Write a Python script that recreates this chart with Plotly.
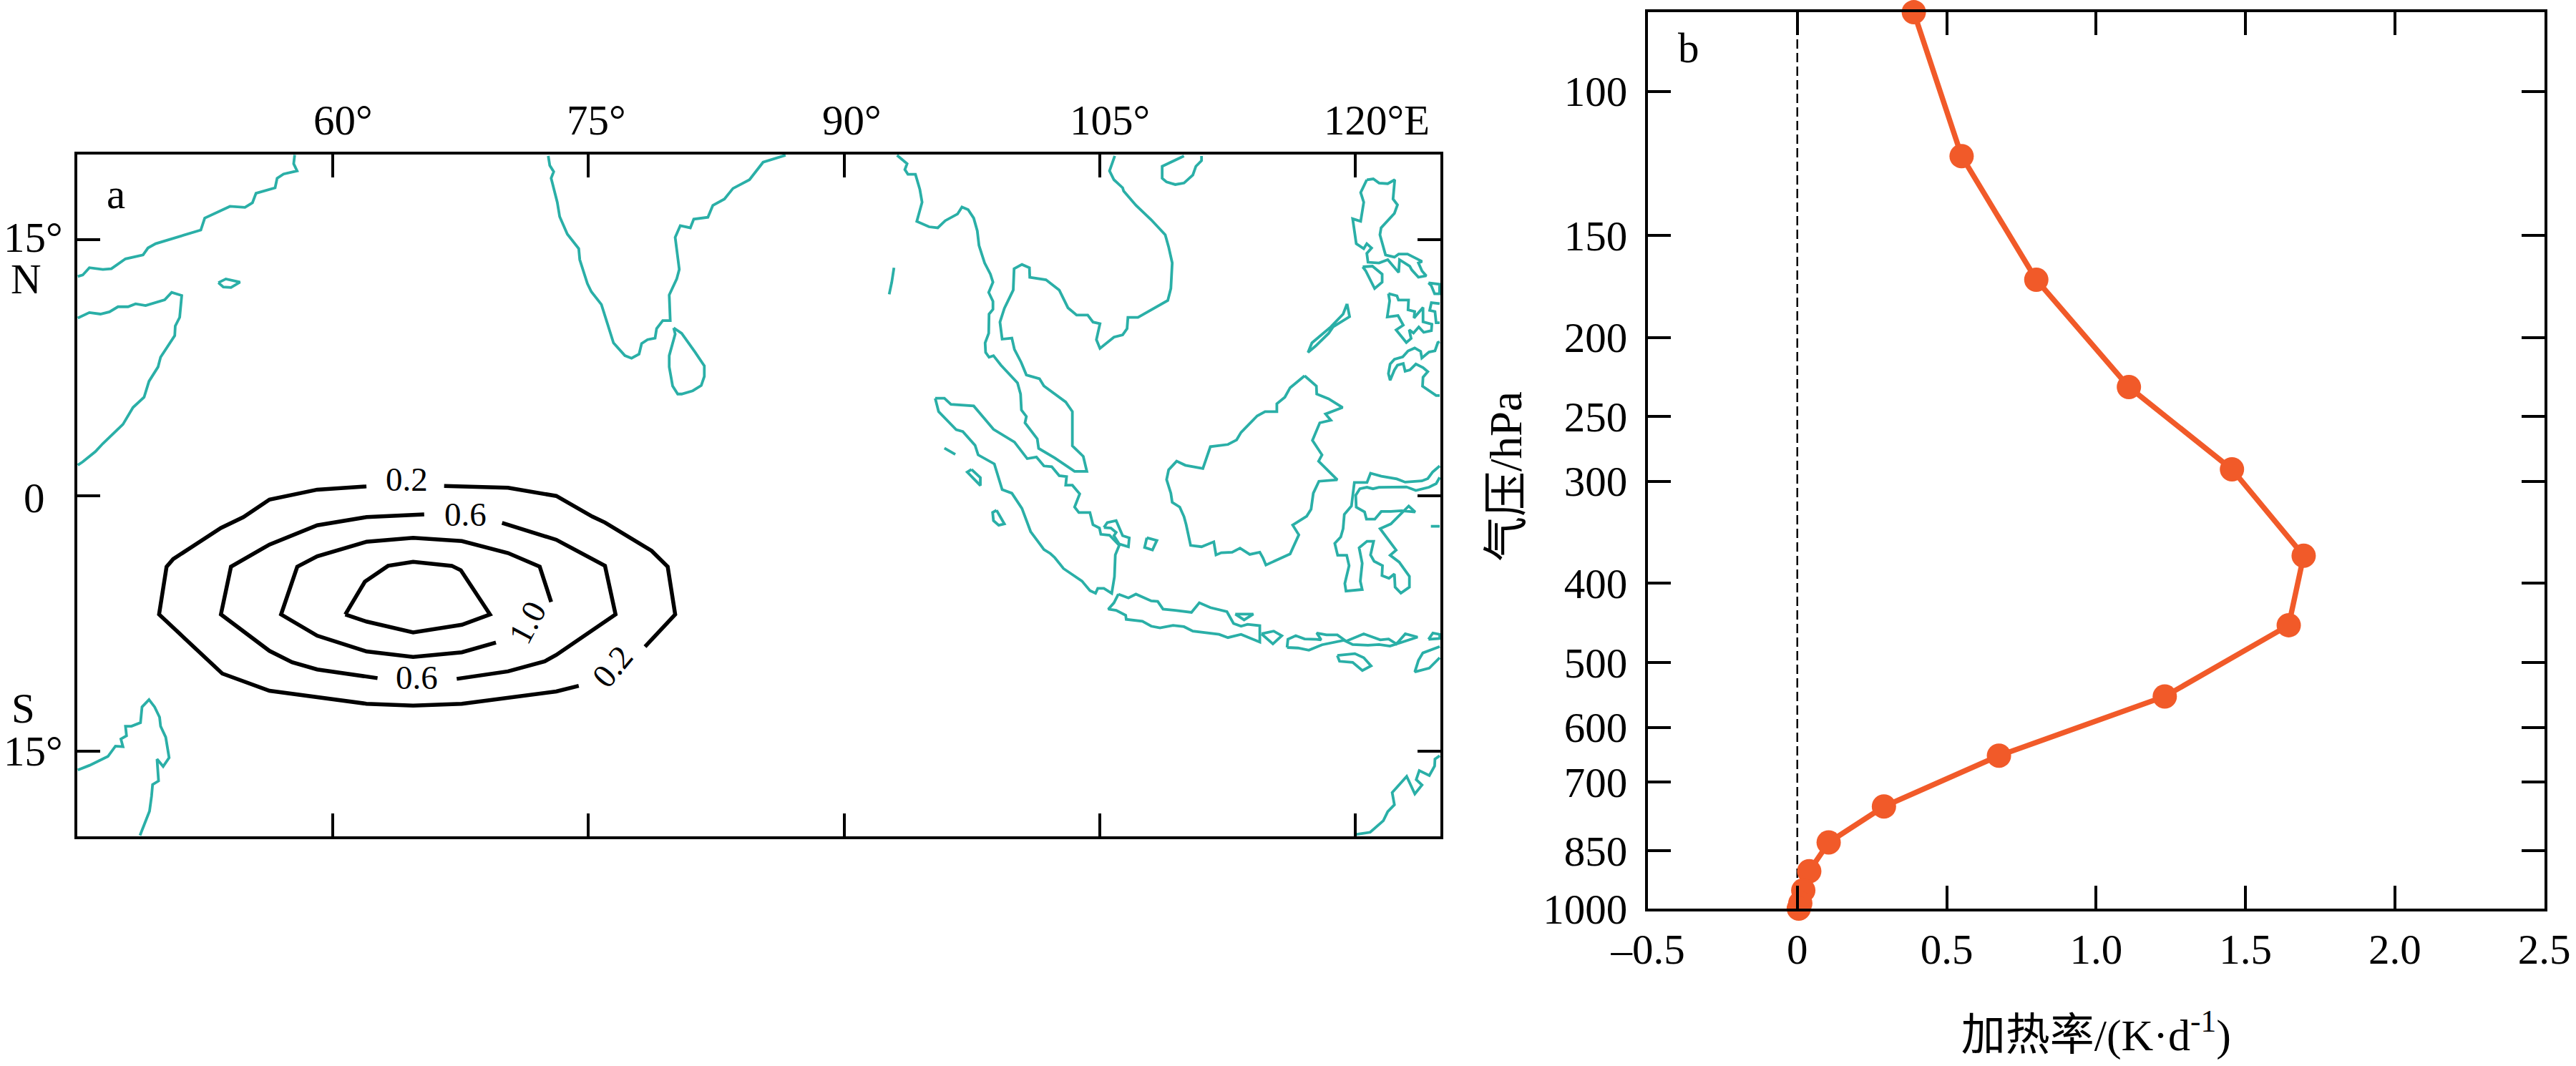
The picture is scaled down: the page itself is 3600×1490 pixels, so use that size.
import plotly.graph_objects as go

# ---------- panel a: tick labels ----------
lon_ticks = [60, 75, 90, 105, 120]
lon_labels = ["60°", "75°", "90°", "105°", "120°E"]
lat_ticks = [-15, 0, 15]

# ---------- panel a: coastlines (lon, lat) ----------
arabia = [(57.76,19.98),(57.7,19.46),(57.9,19.04),(57.11,18.86),(56.73,18.61),(56.61,18.05),(55.49,17.73),(55.28,17.17),(54.84,16.9),(53.96,16.96),(52.48,16.27),(52.25,15.57),(49.6,14.77),(49.15,14.52),(48.86,14.11),(47.83,13.88),(47.0,13.3),(46.5,13.26),(45.71,13.36),(45.32,12.93),(45.03,12.85)]
socotra = [(53.28,12.48),(53.72,12.7),(54.55,12.51),(54.02,12.2),(53.57,12.23),(53.28,12.48)]
horn = [(45.03,10.41),(45.71,10.73),(46.36,10.64),(46.89,10.77),(47.39,11.07),(47.98,11.07),(48.42,11.24),(49.01,11.14),(50.13,11.48),(50.54,11.91),(51.13,11.73),(51.01,10.45),(50.75,9.94),(50.72,9.38),(49.89,8.11),(49.74,7.54),(49.21,6.7),(48.92,5.76),(48.27,5.16),(47.68,4.17),(46.5,3.04),(46.06,2.57),(45.32,1.97),(45.03,1.78)]
india = [(72.64,19.92),(72.73,19.36),(72.96,18.99),(72.81,18.61),(73.17,17.2),(73.31,16.36),(73.76,15.33),(74.43,14.48),(74.49,13.83),(74.94,12.42),(75.17,11.95),(75.76,11.2),(76.47,8.95),(77.14,8.2),(77.53,8.05),(77.97,8.29),(78.12,8.91),(78.47,9.14),(78.91,9.23),(79.0,9.79),(79.36,10.26),(79.8,10.26),(79.74,11.76),(80.18,12.7),(80.33,13.26),(80.09,15.14),(80.39,15.83),(80.98,15.7),(81.18,16.21),(82.01,16.32),(82.3,17.02),(82.98,17.39),(83.48,18.01),(84.45,18.52),(85.25,19.55),(86.57,19.96)]
sri_lanka = [(80.0,9.83),(80.47,9.51),(81.27,8.39),(81.8,7.6),(81.8,6.98),(81.62,6.45),(81.12,6.14),(80.47,5.95),(80.24,5.95),(79.94,6.42),(79.74,7.54),(79.74,8.2),(80.09,9.47),(80.0,9.83)]
madagascar = [(45.03,-16.11),(45.71,-15.84),(46.8,-15.31),(47.24,-14.71),(47.68,-14.74),(47.56,-14.29),(47.89,-14.1),(47.83,-13.54),(48.18,-13.54),(48.71,-13.33),(48.8,-12.41),(49.21,-11.98),(49.54,-12.41),(49.83,-13.01),(49.89,-13.54),(50.19,-14.18),(50.39,-15.39),(50.04,-15.9),(49.68,-15.47),(49.77,-16.75),(49.42,-16.96),(49.36,-17.64),(49.24,-18.52),(48.95,-19.24),(48.68,-19.95)]
indochina = [(93.11,19.96),(93.7,19.46),(93.57,19.12),(93.75,18.84),(94.19,18.84),(94.45,17.95),(94.58,17.2),(94.27,16.08),(94.99,15.76),(95.5,15.7),(95.94,16.12),(96.66,16.51),(96.92,16.92),(97.28,16.77),(97.61,16.27),(97.82,15.52),(97.92,14.67),(98.25,13.64),(98.59,12.98),(98.74,12.51),(98.49,11.91),(98.74,11.39),(98.74,10.92),(98.51,10.64),(98.49,9.51),(98.28,8.95),(98.31,8.39),(98.51,8.11),(98.77,8.2),(99.21,7.64),(100.18,6.6),(100.36,5.95),(100.41,5.01),(100.7,4.63),(100.62,4.26),(101.34,3.32),(101.42,2.76),(102.37,2.2),(103.53,1.41),(104.25,1.41),(104.04,2.29),(103.4,2.91),(103.4,4.92),(103.01,5.48),(101.73,6.42),(101.47,6.85),(100.7,7.07),(100.39,7.82),(100.0,8.57),(99.85,9.23),(99.28,9.17),(99.15,10.17),(99.41,10.98),(99.93,12.05),(99.98,13.3),(100.44,13.55),(100.88,13.36),(100.9,12.8),(101.85,12.65),(102.63,12.05),(103.14,11.01),(103.65,10.58),(104.3,10.58),(104.61,10.17),(105.02,10.08),(104.81,9.14),(105.02,8.63),(105.84,9.29),(106.35,9.42),(106.61,9.79),(106.66,10.45),(107.25,10.45),(109.0,11.44),(109.18,12.14),(109.26,13.64),(109.05,14.58),(108.85,15.29),(108.03,16.17),(107.13,17.02),(106.41,17.86),(106.35,18.05),(105.84,18.52),(105.58,19.04),(105.89,19.92)]
hainan = [(109.95,19.92),(108.67,19.31),(108.67,18.61),(108.93,18.39),(109.44,18.24),(109.95,18.33),(110.47,18.8),(110.65,19.31),(110.98,19.64),(110.98,19.92)]
andaman = [(92.93,13.36),(92.8,12.51),(92.65,11.8)]
luzon = [(120.68,18.52),(121.06,18.57),(121.4,18.33),(121.91,18.29),(122.32,18.52),(122.22,17.39),(122.48,17.05),(122.3,16.55),(121.52,15.7),(121.45,15.29),(121.78,14.11),(122.3,13.98),(122.55,14.16),(123.07,14.16),(123.92,13.73),(123.71,13.64),(123.92,13.17),(124.17,12.89),(123.71,12.8),(123.32,13.23),(123.2,13.45),(122.6,13.83),(122.55,13.08),(121.91,13.83),(121.4,13.64),(120.75,13.68),(120.68,14.2),(120.96,14.52),(120.68,14.77),(120.5,14.48),(120.06,14.77),(119.85,16.23),(120.32,16.08),(120.5,17.2),(120.32,17.77),(120.68,18.52)]
mindoro = [(120.44,13.41),(121.01,13.45),(121.58,12.98),(121.58,12.51),(121.14,12.14),(120.88,12.7),(120.62,13.17),(120.44,13.41)]
palawan = [(119.52,11.24),(119.67,10.49),(118.7,9.89),(118.44,9.51),(117.67,8.76),(117.23,8.39),(117.46,8.95),(118.57,9.89),(119.29,10.64),(119.52,11.24)]
visayas = [(121.95,11.84),(122.45,11.71),(122.54,11.46),(123.13,11.46),(123.1,10.89),(123.49,10.79),(123.45,10.41),(123.98,11.03),(123.98,10.19),(124.5,10.05),(124.47,9.67),(124.02,9.57),(123.73,9.88),(123.42,9.53),(123.17,9.71),(123.28,9.21),(123.0,8.97),(122.4,9.71),(122.82,9.99),(122.51,10.55),(121.88,10.47),(122.02,11.42),(121.95,11.84)]
samar = [(124.3,12.47),(124.95,12.39),(124.95,11.83),(124.66,11.83),(124.47,12.3),(124.3,12.47)]
leyte = [(124.96,11.25),(124.47,11.31),(124.37,10.86),(124.68,10.79),(124.75,10.13),(124.96,10.13)]
mindanao = [(124.96,9.01),(124.85,8.97),(124.68,8.48),(124.33,8.41),(123.91,8.06),(123.84,8.45),(123.49,8.65),(123.1,8.48),(122.79,8.13),(122.3,7.99),(122.05,7.71),(121.95,7.15),(122.05,6.76),(122.3,7.36),(122.48,7.64),(122.82,7.74),(122.93,7.29),(123.21,7.36),(123.56,7.71),(123.98,7.5),(124.26,7.26),(123.98,6.94),(123.95,6.41),(124.47,6.03),(124.75,5.86),(124.96,5.86)]
borneo = [(117.03,7.02),(117.72,6.42),(117.74,5.95),(118.44,5.67),(119.26,5.16),(118.26,4.78),(118.57,4.41),(117.92,4.26),(117.49,3.23),(118.05,2.38),(117.85,2.01),(118.95,0.92),(117.87,0.83),(117.54,0.13),(117.41,-0.81),(117.15,-1.22),(116.33,-1.74),(116.69,-2.31),(116.18,-3.43),(114.76,-4.08),(114.58,-3.65),(114.4,-3.33),(113.81,-3.46),(113.24,-3.09),(112.78,-3.33),(112.14,-3.36),(111.83,-3.49),(111.7,-2.72),(110.98,-3.01),(110.34,-2.93),(110.08,-1.72),(109.95,-1.24),(109.7,-0.68),(109.26,-0.4),(109.18,0.13),(108.93,0.93),(109.05,1.5),(109.52,2.01),(110.03,1.77),(111.06,1.58),(111.5,2.86),(112.53,2.99),(113.04,3.26),(113.3,3.7),(114.25,4.67),(114.71,4.92),(115.4,4.92),(115.4,5.38),(115.87,5.76),(116.18,6.32),(117.03,7.02)]
sumatra = [(95.35,5.7),(95.89,5.7),(96.27,5.35),(97.61,5.25),(98.05,4.73),(98.77,3.88),(100.0,3.13),(100.75,2.16),(101.29,2.25),(101.73,1.73),(102.19,1.69),(102.63,1.16),(103.06,1.11),(103.01,0.6),(103.4,0.6),(103.83,0.09),(103.53,-0.68),(103.78,-1.0),(104.43,-1.0),(104.61,-1.72),(104.99,-1.91),(105.07,-2.28),(105.58,-2.33),(106.15,-2.93),(105.92,-3.49),(105.87,-4.77),(105.71,-5.74),(105.25,-5.45),(104.89,-5.45),(104.76,-5.74),(104.43,-5.58),(103.96,-5.02),(102.88,-4.29),(102.37,-3.65),(102.11,-3.41),(101.73,-3.17),(100.95,-2.12),(100.44,-0.76),(99.85,0.13),(99.28,0.34),(98.82,1.85),(97.87,2.38),(97.69,2.94),(96.97,3.75),(96.58,3.86),(95.55,4.92),(95.35,5.7)]
simeulue = [(95.89,2.78),(96.53,2.41)]
nias = [(97.48,1.53),(98.0,1.05),(98.0,0.58),(97.23,1.37),(97.48,1.53)]
siberut = [(98.95,-0.87),(99.41,-1.67),(99.08,-1.75),(98.77,-1.48),(98.72,-1.0),(98.95,-0.87)]
bangka = [(105.25,-1.88),(105.45,-1.59),(105.97,-1.48),(106.35,-2.36),(106.74,-2.49),(106.69,-3.01),(106.15,-2.85),(105.84,-2.36),(105.97,-2.17),(105.66,-1.91),(105.25,-1.88)]
belitung = [(107.77,-2.48),(108.36,-2.64),(108.1,-3.2),(107.64,-3.05),(107.77,-2.48)]
java = [(106.1,-5.79),(106.69,-6.01),(107.13,-5.79),(108.03,-6.19),(108.41,-6.22),(108.72,-6.67),(109.44,-6.74),(110.39,-6.86),(110.85,-6.3),(111.5,-6.58),(112.47,-6.82),(112.86,-7.51),(113.3,-7.67),(113.68,-7.56),(114.4,-7.64),(114.4,-8.6),(113.3,-8.15),(112.53,-8.34),(112.01,-8.15),(110.47,-7.96),(109.95,-7.7),(109.31,-7.62),(108.54,-7.77),(108.03,-7.67),(107.51,-7.38),(106.56,-7.27),(106.53,-7.03),(105.97,-6.74),(105.51,-6.67),(105.84,-6.3),(106.1,-5.79)]
madura = [(112.96,-6.96),(114.02,-6.96),(113.48,-7.3),(112.96,-6.96)]
bali = [(114.5,-8.12),(115.22,-7.96),(115.69,-8.23),(115.17,-8.71),(114.5,-8.12)]
flores = [(116.0,-8.92),(116.05,-8.44),(116.51,-8.23),(117.03,-8.42),(117.72,-8.44),(118.0,-8.47),(117.74,-8.07),(118.31,-8.18),(118.95,-8.18),(119.47,-8.55),(120.5,-8.12),(121.47,-8.47),(121.96,-8.42),(122.42,-8.71),(122.94,-8.12),(123.66,-8.31),(122.04,-8.84),(121.4,-8.75),(120.75,-8.79),(119.85,-8.75),(119.34,-8.5),(118.05,-8.76),(117.28,-9.08),(116.64,-8.95),(116.0,-8.92)]
sumba = [(118.95,-9.39),(119.98,-9.28),(120.5,-9.52),(120.93,-10.0),(120.42,-10.27),(119.85,-9.79),(119.08,-9.73),(118.95,-9.39)]
timor = [(124.96,-8.87),(123.97,-9.24),(123.71,-9.68),(123.5,-10.35),(124.35,-10.13),(124.96,-9.52)]
alor = [(124.3,-8.44),(124.56,-8.07),(124.96,-8.15),(124.96,-8.39),(124.3,-8.44)]
australia = [(120.03,-19.89),(120.88,-19.76),(121.65,-19.08),(121.91,-18.55),(122.3,-18.15),(122.17,-17.43),(123.02,-16.48),(123.5,-17.51),(123.92,-16.99),(123.58,-16.67),(123.76,-16.14),(124.35,-16.43),(124.66,-15.87),(124.68,-15.47),(124.96,-15.27)]
sulawesi = [(124.96,1.73),(124.54,1.37),(124.26,0.99),(123.91,0.85),(122.93,0.78),(122.44,0.97),(121.53,1.13),(120.9,1.3),(120.69,0.76),(119.95,0.76),(119.78,-0.62),(119.36,-1.11),(119.29,-1.95),(119.15,-2.44),(118.8,-2.81),(118.97,-3.51),(119.5,-3.51),(119.64,-4.12),(119.39,-5.17),(119.46,-5.61),(120.41,-5.52),(120.3,-5.03),(120.41,-3.98),(120.23,-3.07),(120.69,-2.69),(121.08,-2.69),(120.9,-3.49),(121.11,-3.86),(121.6,-4.12),(121.57,-4.7),(121.98,-4.86),(122.3,-4.61),(122.34,-5.38),(122.68,-5.73),(123.18,-5.38),(123.18,-4.75),(122.58,-3.91),(122.05,-3.51),(122.4,-3.21),(121.46,-1.95),(122.09,-1.67),(123.14,-0.62),(123.52,-0.97),(122.72,-0.9),(122.09,-0.94),(121.53,-0.94),(121.15,-1.39),(120.66,-1.39),(120.55,-0.97),(120.06,-0.69),(120.03,0.01),(120.27,0.39),(120.69,0.48),(121.04,0.39),(121.39,0.48),(123.0,0.5),(123.56,0.29),(124.33,0.48),(124.75,0.69),(124.96,1.06)]
halmahera_stub = [(124.44,-1.81),(124.96,-1.81)]

coast_pieces = [arabia, socotra, horn, india, sri_lanka, madagascar, indochina, hainan, andaman,
                luzon, mindoro, palawan, visayas, samar, leyte, mindanao, borneo, sumatra, simeulue,
                nias, siberut, bangka, belitung, java, madura, bali, flores, sumba, timor, alor,
                australia, sulawesi, halmahera_stub]

# ---------- panel a: contours (lon, lat; broken where a label sits) ----------
contour_02 = [(66.53,0.56),(70.28,0.45),(73.11,-0.03),(75.23,-1.24),(75.97,-1.59),(78.71,-3.25),(79.65,-4.18),(80.09,-6.98),(78.32,-8.87)]
contour_02b = [(74.43,-11.17),(73.11,-11.5),(67.57,-12.22),(64.71,-12.33),(61.97,-12.22),(56.28,-11.46),(53.51,-10.45),(49.8,-6.98),(50.24,-4.18),(50.63,-3.73),(53.43,-1.91),(54.75,-1.27),(56.28,-0.24),(59.08,0.34),(61.97,0.53)]
contour_06 = [(65.36,-1.11),(61.97,-1.27),(59.08,-1.75),(56.28,-2.88),(54.02,-4.18),(53.43,-6.98),(56.28,-9.12),(57.61,-9.79),(59.08,-10.21),(62.62,-10.72)]
contour_06b = [(67.27,-10.76),(70.28,-10.32),(72.43,-9.73),(73.11,-9.36),(76.59,-6.98),(75.97,-4.13),(73.11,-2.6),(69.93,-1.61)]
contour_10 = [(72.81,-6.25),(72.14,-4.18),(70.28,-3.38),(67.57,-2.68),(64.71,-2.49),(61.97,-2.72),(59.08,-3.57),(57.91,-4.18),(56.96,-6.98),(59.08,-8.23),(61.97,-9.15),(64.71,-9.47),(67.57,-9.2),(69.57,-8.63)]
contour_14 = [(60.73,-6.98),(61.88,-5.06),(63.24,-4.13),(64.71,-3.89),(66.98,-4.13),(67.51,-4.39),(69.22,-6.98),(67.57,-7.59),(64.71,-8.04),(61.97,-7.4),(60.73,-6.98)]
contour_pieces = [contour_02, contour_02b, contour_06, contour_06b, contour_10, contour_14]

contour_labels = ["0.2", "0.6", "1.0", "0.6", "0.2"]
contour_label_lon = [64.33, 67.78, 71.4, 64.92, 76.41]
contour_label_lat = [0.96, -1.13, -7.43, -10.69, -10.0]
contour_label_rot = [0, 0, -62, 0, -50]

# ---------- panel b: profile ----------
heating_rate = [0.39, 0.55, 0.80, 1.11, 1.455, 1.695, 1.645, 1.23, 0.675, 0.29, 0.105, 0.04, 0.02, 0.01, 0.005]
pressure = [80, 120, 170, 230, 290, 370, 450, 550, 650, 750, 830, 900, 950, 985, 1000]
heat_ticks = [-0.5, 0, 0.5, 1.0, 1.5, 2.0, 2.5]
heat_labels = ["–0.5", "0", "0.5", "1.0", "1.5", "2.0", "2.5"]
pressure_ticks = [100, 150, 200, 250, 300, 400, 500, 600, 700, 850, 1000]
pressure_labels = [str(p) for p in pressure_ticks]
zero_x = [0, 0]
zero_y = [80, 1000]

FONT = "Liberation Serif, 'Noto Sans CJK SC', serif"
TEAL = "#2AAFA7"
ORANGE = "#F15A29"
W, H = 3600, 1490
TICK = 59

fig = go.Figure()


def add_pieces(pieces, color, width):
    for piece in pieces:
        fig.add_trace(go.Scatter(x=[p[0] for p in piece], y=[p[1] for p in piece], mode="lines",
                                 line=dict(color=color, width=width, shape="linear"),
                                 hoverinfo="skip", showlegend=False, xaxis="x", yaxis="y"))


add_pieces(coast_pieces, TEAL, 3.8)
add_pieces(contour_pieces, "black", 5.5)

fig.add_trace(go.Scatter(x=zero_x, y=zero_y, mode="lines", line=dict(color="black", width=2.5, dash="13px,6px"),
                         hoverinfo="skip", showlegend=False, xaxis="x2", yaxis="y2"))
fig.add_trace(go.Scatter(x=heating_rate, y=pressure, mode="lines+markers", line=dict(color=ORANGE, width=7.5),
                         marker=dict(color=ORANGE, size=34), cliponaxis=False,
                         showlegend=False, xaxis="x2", yaxis="y2"))

annotations = []


def note(text, x, y, xref="x", yref="y", size=TICK, xshift=0, yshift=0, angle=0):
    annotations.append(dict(text=text, x=x, y=y, xref=xref, yref=yref, showarrow=False,
                            font=dict(family=FONT, size=size, color="black"),
                            xanchor="center", yanchor="middle", xshift=xshift, yshift=yshift, textangle=angle))


lon_shift = [14, 11, 11, 14, 30]
for lab, lon, sh in zip(lon_labels, lon_ticks, lon_shift):
    note(lab, lon, 20, xshift=sh, yshift=48)
note("15°", 45, 15, xshift=-62, yshift=3)
note("N", 45, 15, xshift=-72, yshift=-55)
note("0", 45, 0, xshift=-60, yshift=-3)
note("S", 45, -15, xshift=-76, yshift=60)
note("15°", 45, -15, xshift=-62, yshift=0)
note("a", 47.27, 17.7)
note("b", -0.363, 1.947, xref="x2", yref="y2")
for lab, lo, la, rot in zip(contour_labels, contour_label_lon, contour_label_lat, contour_label_rot):
    note(lab, lo, la, size=47, angle=rot)
note("气压/hPa", 2105 / W, 1 - 666 / H, xref="paper", yref="paper", size=63, angle=-90)

frame = dict(showline=True, linecolor="black", linewidth=4, mirror="ticks", ticks="inside",
             ticklen=32, tickwidth=4, tickcolor="black", showgrid=False, zeroline=False, automargin=False,
             tickfont=dict(family=FONT, size=TICK, color="black"))

fig.update_layout(
    width=W, height=H, margin=dict(l=0, r=0, t=0, b=0),
    paper_bgcolor="white", plot_bgcolor="white", showlegend=False,
    font=dict(family=FONT, size=TICK, color="black"),
    xaxis=dict(domain=[108 / W, 2013 / W], range=[45, 125], tickmode="array", tickvals=lon_ticks,
               showticklabels=False, anchor="y", **frame),
    yaxis=dict(domain=[1 - 1169 / H, 1 - 216 / H], range=[-20, 20], tickmode="array", tickvals=lat_ticks,
               showticklabels=False, anchor="x", **frame),
    xaxis2=dict(domain=[2303 / W, 3555.5 / W], range=[-0.5, 2.5], tickmode="array", tickvals=heat_ticks,
                ticktext=heat_labels, anchor="y2", ticklabelstandoff=2,
                title=dict(text="加热率/(K·d<sup>-1</sup>)", font=dict(family=FONT, size=62), standoff=67), **frame),
    yaxis2=dict(domain=[1 - 1270 / H, 1 - 17 / H], type="log", range=[3, 1.903], tickmode="array",
                tickvals=pressure_ticks, ticktext=pressure_labels, anchor="x2", ticklabelstandoff=13, **frame),
    annotations=annotations,
)

fig.write_html("out.html", config=dict(displayModeBar=False),
               post_script="document.body.style.margin='0';document.documentElement.style.overflow='hidden';")
